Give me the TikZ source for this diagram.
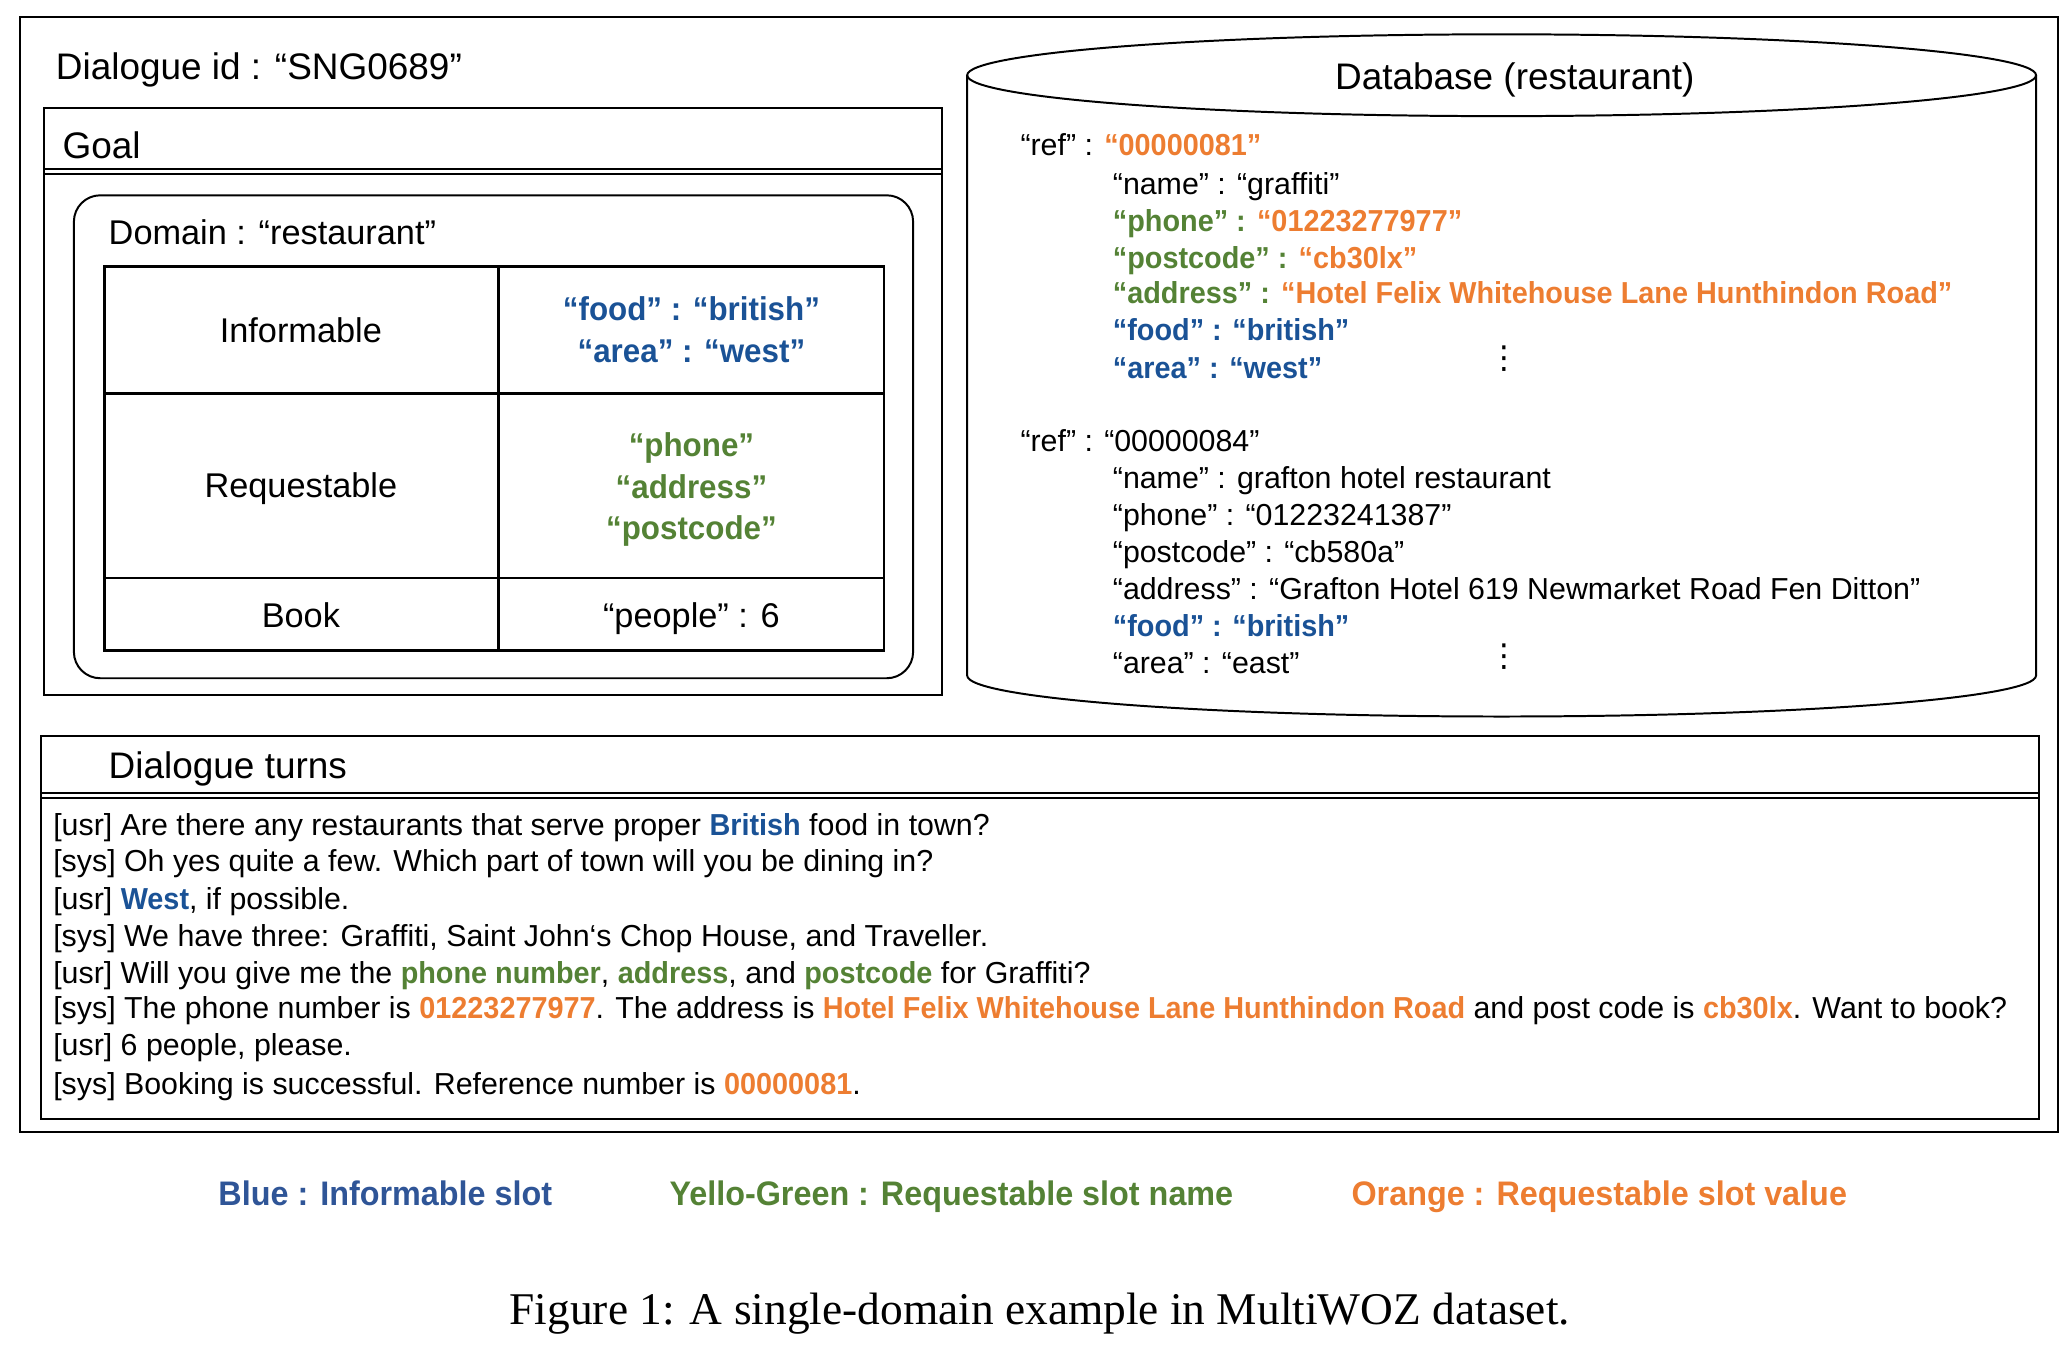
\documentclass[tikz,border=0pt]{standalone}
\usepackage{fontspec}
\setmainfont{Liberation Sans}[BoldFeatures={FakeStretch=0.95}]
\newfontfamily\capfont{Liberation Serif}
\newfontfamily\symfont{DejaVu Sans}
\definecolor{iblue}{HTML}{1A5296}
\definecolor{lblue}{HTML}{2F5597}
\definecolor{rgreen}{HTML}{548235}
\definecolor{rorange}{HTML}{ED7D31}
\tikzset{
  base/.style={inner sep=0pt, text depth=0pt},
  head/.style={base, anchor=west, font=\fontsize{14}{16}\selectfont, text height=10pt},
  dom/.style={base, anchor=west, font=\fontsize{13}{15}\selectfont, text height=9.3pt},
  cell/.style={base, anchor=center, font=\fontsize{13}{15}\selectfont, text height=9.3pt},
  bcell/.style={base, anchor=center, font=\fontsize{12.5}{15}\selectfont\bfseries, text height=9pt},
  db/.style={base, anchor=west, font=\fontsize{11.5}{13}\selectfont, text height=8.2pt},
  vdot/.style={inner sep=0pt, anchor=center, font=\symfont\fontsize{12}{13}\selectfont},
  dlg/.style={base, anchor=west, font=\fontsize{11.5}{13}\selectfont, text height=8.2pt},
  leg/.style={base, anchor=center, font=\fontsize{12.9}{14}\selectfont\bfseries, text height=9.2pt},
  capt/.style={base, anchor=center, font=\capfont\fontsize{17.2}{19}\selectfont, text height=11.4pt},
  frame/.style={draw=black, line width=0.75pt},
  tab/.style={draw=black, line width=1pt},
}
\newcommand{\bl}[1]{\textcolor{iblue}{\bfseries #1}}
\newcommand{\gr}[1]{\textcolor{rgreen}{\bfseries #1}}
\newcommand{\orn}[1]{\textcolor{rorange}{\bfseries #1}}
\begin{document}
\begin{tikzpicture}[x=0.5pt,y=-0.5pt]
\useasboundingbox (0,0) rectangle (1568,1019);
% outer frame
\draw[frame] (15,13) rectangle (1560,858);
\node[head] (dlgid) at (42,50) {Dialogue id : “SNG0689”};
% goal box
\draw[frame] (33,82) rectangle (714,527);
\draw[frame] (33,128) -- (714,128);
\draw[frame] (33,132) -- (714,132);
\node[head] (goal) at (47,110) {Goal};
\draw[frame, rounded corners=10pt] (56,148) rectangle (692,514);
\node[dom] (domain) at (82,176) {Domain : “restaurant”};
% table
\draw[tab] (79,202) rectangle (670,493);
\draw[tab] (378,202) -- (378,493);
\draw[tab] (79,298) -- (670,298);
\draw[tab] (79,438) -- (670,438);
\node[cell] (inf) at (228,250) {Informable};
\node[bcell, text=iblue] (inf1) at (524,234) {“food” : “british”};
\node[bcell, text=iblue] (inf2) at (524,266) {“area” : “west”};
\node[cell] (req) at (228,368) {Requestable};
\node[bcell, text=rgreen] (req1) at (524,337) {“phone”};
\node[bcell, text=rgreen] (req2) at (524,369) {“address”};
\node[bcell, text=rgreen] (req3) at (524,400) {“postcode”};
\node[cell] (book) at (228,466) {Book};
\node[cell] (book1) at (524,466) {“people” : 6};
% database cylinder
\draw[frame] (1138,57) ellipse [x radius=405, y radius=31];
\draw[frame] (733,57) -- (733,512) arc[start angle=180, end angle=0, x radius=405, y radius=31] -- (1543,57);
\node[head, anchor=center] (dbtitle) at (1148,58) {Database (restaurant)};
\node[db] (r1) at (773,110) {“ref” : \orn{“00000081”}};
\node[db] (r1a) at (843,139) {“name” : “graffiti”};
\node[db] (r1b) at (843,167) {\gr{“phone” :} \orn{“01223277977”}};
\node[db] (r1c) at (843,195) {\gr{“postcode” :} \orn{“cb30lx”}};
\node[db] (r1d) at (843,222) {\gr{“address” :} \orn{“Hotel Felix Whitehouse Lane Hunthindon Road”}};
\node[db] (r1e) at (843,250) {\bl{“food” : “british”}};
\node[db] (r1f) at (843,279) {\bl{“area” : “west”}};
\node[vdot] (dots1) at (1140,272) {⋮};
\node[db] (r2) at (773,334) {“ref” : “00000084”};
\node[db] (r2a) at (843,362) {“name” : grafton hotel restaurant};
\node[db] (r2b) at (843,390) {“phone” : “01223241387”};
\node[db] (r2c) at (843,418) {“postcode” : “cb580a”};
\node[db] (r2d) at (843,446) {“address” : “Grafton Hotel 619 Newmarket Road Fen Ditton”};
\node[db] (r2e) at (843,474) {\bl{“food” : “british”}};
\node[db] (r2f) at (843,502) {“area” : “east”};
\node[vdot] (dots2) at (1140,498) {⋮};
% dialogue turns
\draw[frame] (31,558) rectangle (1545,848);
\draw[frame] (31,601) -- (1545,601);
\draw[frame] (31,605) -- (1545,605);
\node[head] (turns) at (82,580) {Dialogue turns};
\node[dlg] (t1) at (40,625) {[usr] Are there any restaurants that serve proper \bl{British} food in town?};
\node[dlg] (t2) at (40,652) {[sys] Oh yes quite a few. Which part of town will you be dining in?};
\node[dlg] (t3) at (40,681) {[usr] \bl{West}, if possible.};
\node[dlg] (t4) at (40,709) {[sys] We have three: Graffiti, Saint John‘s Chop House, and Traveller.};
\node[dlg] (t5) at (40,737) {[usr] Will you give me the \gr{phone number}, \gr{address}, and \gr{postcode} for Graffiti?};
\node[dlg] (t6) at (40,764) {[sys] The phone number is \orn{01223277977}. The address is \orn{Hotel Felix Whitehouse Lane Hunthindon Road} and post code is \orn{cb30lx}. Want to book?};
\node[dlg] (t7) at (40,792) {[usr] 6 people, please.};
\node[dlg] (t8) at (40,821) {[sys] Booking is successful. Reference number is \orn{00000081}.};
% legend
\node[leg, text=lblue] (lg1) at (292,904) {Blue : Informable slot};
\node[leg, text=rgreen] (lg2) at (721,904) {Yello-Green : Requestable slot name};
\node[leg, text=rorange] (lg3) at (1212,904) {Orange : Requestable slot value};
% caption
\node[capt] (caption) at (788,992) {Figure 1: A single-domain example in MultiWOZ dataset.};
\end{tikzpicture}
\end{document}
